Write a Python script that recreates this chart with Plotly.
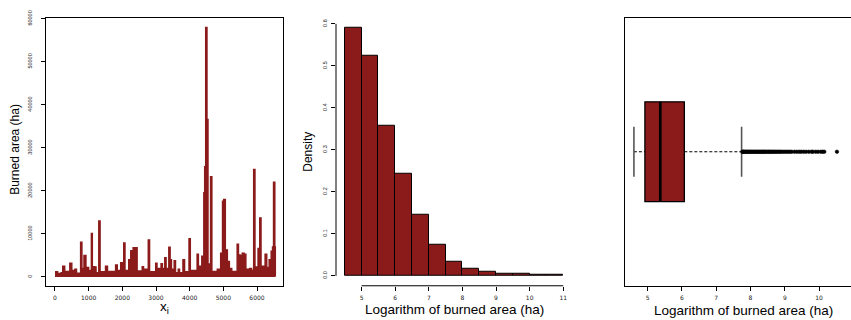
import plotly.graph_objects as go

W, H = 851, 320
RED = "#8B1A1A"

# ---------------- Panel 1: burned area series (readings of the envelope) ----------------
fire_index = [0, 80, 180, 230, 290, 440, 500, 590, 640, 760, 800, 860, 920, 1000, 1080, 1110,
              1180, 1220, 1300, 1340, 1500, 1560, 1800, 1850, 1950, 2000, 2040, 2080, 2190,
              2250, 2320, 2440, 2590, 2630, 2770, 2810, 2990, 3030, 3150, 3190, 3260, 3300,
              3380, 3420, 3460, 3540, 3580, 3660, 3700, 3800, 3850, 3980, 4020, 4220, 4260,
              4360, 4400, 4420, 4445, 4475, 4515, 4545, 4600, 4620, 4660, 4820, 4920, 4975,
              5010, 5060, 5120, 5180, 5250, 5410, 5450, 5500, 5560, 5620, 5670, 5780, 5840,
              5900, 5940, 6030, 6080, 6120, 6240, 6290, 6360, 6420, 6460, 6490, 6530, 6545]
fire_area = [1200, 800, 1000, 2500, 1300, 3200, 1500, 1800, 900, 8100, 2000, 5000, 2200, 1500,
             10100, 2400, 2300, 1000, 13000, 1200, 2500, 1300, 2800, 1500, 3300, 1400, 7900,
             1500, 4000, 6100, 6800, 1400, 2400, 1800, 8600, 1200, 3200, 2000, 3100, 2000, 4500,
             2000, 6900, 4000, 1800, 3800, 1000, 1800, 1000, 4000, 1200, 8900, 1500, 5300, 2500,
             4800, 2000, 19600, 25600, 58000, 36600, 3000, 1500, 23300, 1300, 1800, 5500, 17600,
             18000, 6300, 3600, 2000, 1300, 7600, 5100, 5000, 5500, 5300, 1800, 2000, 1500,
             25000, 2300, 6600, 13700, 2500, 5300, 2200, 4000, 6000, 7000, 22000, 7000, 100]
p1_xticks = [0, 1000, 2000, 3000, 4000, 5000, 6000]
p1_yticks = [0, 10000, 20000, 30000, 40000, 50000, 60000]

# ---------------- Panel 2: histogram of log burned area ----------------
bin_left = [4.5, 5.0, 5.5, 6.0, 6.5, 7.0, 7.5, 8.0, 8.5, 9.0, 9.5, 10.0, 10.5]
density = [0.591, 0.523, 0.358, 0.242, 0.146, 0.073, 0.033, 0.018, 0.010, 0.005, 0.004, 0.0015, 0.0015]
bin_width = 0.5
p2_xticks = [5, 6, 7, 8, 9, 10, 11]
p2_yticks = [0.0, 0.1, 0.2, 0.3, 0.4, 0.5, 0.6]

# ---------------- Panel 3: boxplot of log burned area ----------------
box_q1, box_median, box_q3 = 4.92, 5.37, 6.07
whisker_low, whisker_high = 4.60, 7.74
outliers = [7.76, 7.78, 7.80, 7.82, 7.85, 7.87, 7.90, 7.93, 7.95, 7.98, 8.01, 8.04, 8.07, 8.10,
            8.13, 8.16, 8.19, 8.22, 8.25, 8.28, 8.31, 8.34, 8.37, 8.40, 8.43, 8.46, 8.50, 8.53,
            8.56, 8.60, 8.63, 8.67, 8.70, 8.74, 8.78, 8.82, 8.86, 8.90, 8.95, 9.00, 9.05, 9.10,
            9.15, 9.20, 9.28, 9.35, 9.42, 9.48, 9.55, 9.62, 9.70, 9.78, 9.82, 9.90, 9.97, 10.05,
            10.10, 10.15, 10.52]
p3_xticks = [5, 6, 7, 8, 9, 10]


def px(x):
    return x / W


def py(y):
    return 1 - y / H


TOP, BOT = 11, 285
tickfont_x = dict(family="DejaVu Sans", size=6, color="#222")
tickfont_y = dict(family="Liberation Sans", size=5.5, color="#222")

fig = go.Figure()

# Panel 1
fig.add_trace(go.Scatter(x=fire_index, y=fire_area, mode="lines", line_shape="hv",
                         line=dict(color=RED, width=1.4), fill="tozeroy", fillcolor=RED,
                         xaxis="x", yaxis="y", hoverinfo="skip"))

# Panel 2
fig.add_trace(go.Bar(x=[b + bin_width / 2 for b in bin_left], y=density, width=bin_width,
                     marker=dict(color=RED, line=dict(color="black", width=1)),
                     xaxis="x2", yaxis="y2"))

# Panel 3
fig.add_trace(go.Box(orientation="h", y=[0], q1=[box_q1], median=[box_median], q3=[box_q3],
                     lowerfence=[box_q1], upperfence=[box_q3], width=1, whiskerwidth=0,
                     fillcolor=RED, line=dict(color="black", width=1.3), boxpoints=False,
                     xaxis="x3", yaxis="y3"))
fig.add_trace(go.Scatter(x=[box_median, box_median], y=[-0.5, 0.5], mode="lines",
                         line=dict(color="black", width=2.6), xaxis="x3", yaxis="y3"))
for a, b in [(whisker_low, box_q1), (box_q3, whisker_high)]:
    fig.add_trace(go.Scatter(x=[a, b], y=[0, 0], mode="lines",
                             line=dict(color="black", width=1, dash="3px,2px"),
                             xaxis="x3", yaxis="y3"))
for w in [whisker_low, whisker_high]:
    fig.add_trace(go.Scatter(x=[w, w], y=[-0.25, 0.25], mode="lines",
                             line=dict(color="#555", width=1.6), xaxis="x3", yaxis="y3"))
fig.add_trace(go.Scatter(x=outliers, y=[0] * len(outliers), mode="markers",
                         marker=dict(symbol="circle", size=3.5, color="black",
                                     line=dict(width=0.6, color="black")),
                         xaxis="x3", yaxis="y3"))

common = dict(showgrid=False, zeroline=False, ticks="outside", ticklen=4, tickwidth=1,
              tickcolor="black", linecolor="black", linewidth=1)

fig.update_layout(
    width=W, height=H, margin=dict(l=0, r=0, t=0, b=0),
    paper_bgcolor="white", plot_bgcolor="white", showlegend=False, bargap=0,
    xaxis=dict(domain=[px(46), px(283)], range=[-267, 6772], anchor="y",
               tickvals=p1_xticks, ticktext=[str(v) for v in p1_xticks], tickfont=tickfont_x,
               showline=True, mirror=True, ticklabelstandoff=2, **common),
    yaxis=dict(domain=[py(BOT), py(TOP)], range=[-2045, 60227], anchor="x",
               tickvals=p1_yticks, ticktext=[str(v) for v in p1_yticks], tickfont=tickfont_y,
               tickangle=-90, showline=True, mirror=True, ticklabelstandoff=7, **common),
    xaxis2=dict(domain=[px(336), px(572)], range=[4.24, 11.26], anchor="y2",
                tickvals=p2_xticks, ticktext=[str(v) for v in p2_xticks], tickfont=tickfont_x,
                showline=False, ticklabelstandoff=2, **common),
    yaxis2=dict(domain=[py(BOT), py(TOP)], range=[-0.0236, 0.6146], anchor="x2",
                tickvals=p2_yticks, ticktext=["%.1f" % v for v in p2_yticks], tickfont=tickfont_y,
                tickangle=-90, showline=False, ticklabelstandoff=2, **common),
    xaxis3=dict(domain=[px(625), 1.0], range=[4.34, 10.93], anchor="y3",
                tickvals=p3_xticks, ticktext=[str(v) for v in p3_xticks], tickfont=tickfont_x,
                showline=True, mirror=True, ticklabelstandoff=2, **common),
    yaxis3=dict(domain=[py(BOT), py(TOP)], range=[-1.343, 1.343], anchor="x3",
                showticklabels=False, showgrid=False, zeroline=False, ticks="",
                showline=True, linecolor="black", linewidth=1, mirror=False),
)

# detached R-style axis lines for the histogram
fig.add_shape(type="line", xref="x2 domain", yref="y2", x0=0, x1=0,
              y0=min(p2_yticks), y1=max(p2_yticks), line=dict(color="black", width=1))
fig.add_shape(type="line", xref="x2", yref="y2 domain", x0=min(p2_xticks), x1=max(p2_xticks),
              y0=0, y1=0, line=dict(color="black", width=1))

title_font = dict(family="Liberation Sans", size=12, color="black")
xtitle_font = dict(family="Liberation Sans", size=13.5, color="black")
ann = [
    dict(text="Burned area (ha)", x=px(15), y=py(146), textangle=-90, font=title_font),
    dict(text="Density", x=px(308), y=py(148), textangle=-90, font=title_font),
    dict(text="x<sub>i</sub>", x=px(164), y=py(307), font=xtitle_font),
    dict(text="Logarithm of burned area (ha)", x=px(454), y=py(309), font=xtitle_font),
    dict(text="Logarithm of burned area (ha)", x=px(743), y=py(310), font=xtitle_font),
]
for a in ann:
    fig.add_annotation(xref="paper", yref="paper", showarrow=False,
                       xanchor="center", yanchor="middle", **a)

fig.write_html("out.html")
